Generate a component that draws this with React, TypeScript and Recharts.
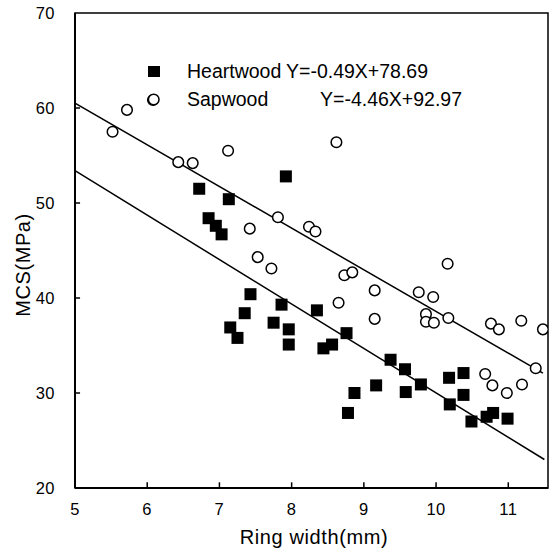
import React from "react";
import { ScatterChart, Scatter, XAxis, YAxis, ReferenceArea, ReferenceLine } from "recharts";

// Ring width (mm) vs MCS (MPa)
const heartwood = [
    [6.72, 51.5], [7.13, 50.4], [6.85, 48.4], [6.95, 47.6], [7.03, 46.7], [7.92, 52.8],
    [7.43, 40.4], [7.35, 38.4], [7.15, 36.9], [7.25, 35.8], [7.75, 37.4], [7.86, 39.3],
    [7.96, 36.7], [7.96, 35.1], [8.35, 38.7], [8.44, 34.7], [8.56, 35.1], [8.76, 36.3],
    [8.87, 30.0], [8.78, 27.9], [9.17, 30.8], [9.37, 33.5], [9.57, 32.5], [9.58, 30.1],
    [9.79, 30.9], [10.18, 31.6], [10.38, 32.1], [10.38, 29.8], [10.19, 28.8], [10.49, 27.0],
    [10.7, 27.5], [10.79, 27.9], [10.99, 27.3],
].map(([x, y]) => ({ x, y }));

const sapwood = [
    [5.52, 57.5], [5.72, 59.8], [6.09, 60.9], [6.43, 54.3], [6.63, 54.2], [7.12, 55.5],
    [7.42, 47.3], [7.53, 44.3], [7.72, 43.1], [7.81, 48.5], [8.24, 47.5], [8.33, 47.0],
    [8.62, 56.4], [8.65, 39.5], [8.73, 42.4], [8.84, 42.7], [9.15, 40.8], [9.15, 37.8],
    [9.76, 40.6], [9.96, 40.1], [9.86, 38.3], [9.86, 37.5], [9.97, 37.4], [10.16, 43.6],
    [10.17, 37.9], [10.68, 32.0], [10.76, 37.3], [10.78, 30.8], [10.87, 36.7], [10.98, 30.0],
    [11.18, 37.6], [11.19, 30.9], [11.38, 32.6], [11.48, 36.7],
].map(([x, y]) => ({ x, y }));

// fitted lines, endpoints as drawn in the figure
const heartFit = [{ x: 5, y: 53.4 }, { x: 11.5, y: 23.0 }];
const sapFit = [{ x: 5, y: 60.5 }, { x: 11.48, y: 32.1 }];

const xTicks = [5, 6, 7, 8, 9, 10, 11];
const yTicks = [20, 30, 40, 50, 60, 70];
const X_MAX = 11.55;

const FONT = "Arial, 'Liberation Sans', sans-serif";

const Square = (p: any) => <rect x={p.cx - 6} y={p.cy - 6} width={12} height={12} fill="#000" />;
const Ring = (p: any) => <circle cx={p.cx} cy={p.cy} r={5.3} fill="#fff" stroke="#000" strokeWidth={1.5} />;
const NoDot = () => <g />;

export default function App() {
    const tick = { fill: "#000", fontSize: 16.5, fontFamily: FONT, letterSpacing: 0.5 };
    return (
        <div style={{ position: "absolute", left: 0, top: 0, width: 557, height: 552, background: "#fff" }}>
            <ScatterChart width={557} height={552} margin={{ top: 13, right: 9, bottom: 0, left: 0 }}>
                <XAxis
                    type="number"
                    dataKey="x"
                    domain={[5, X_MAX]}
                    ticks={xTicks}
                    height={64}
                    tick={tick}
                    tickLine={false}
                    tickMargin={9}
                    axisLine={{ stroke: "#000", strokeWidth: 2 }}
                    allowDataOverflow
                />
                <YAxis
                    type="number"
                    dataKey="y"
                    domain={[20, 70]}
                    ticks={yTicks}
                    width={75}
                    tick={tick}
                    tickLine={false}
                    tickMargin={14}
                    axisLine={{ stroke: "#000", strokeWidth: 2 }}
                    allowDataOverflow
                />
                <ReferenceArea x1={5} x2={X_MAX} y1={20} y2={70} fill="none" stroke="#000" strokeWidth={1.5} ifOverflow="visible" />

                {/* short inward ticks */}
                {xTicks.slice(1).map(t => (
                    <ReferenceLine key={"xt" + t} segment={[{ x: t, y: 20 }, { x: t, y: 20.6 }]} stroke="#000" strokeWidth={1.5} />
                ))}
                {yTicks.slice(1, -1).map(t => (
                    <ReferenceLine key={"yt" + t} segment={[{ x: 5, y: t }, { x: 5.07, y: t }]} stroke="#000" strokeWidth={1.5} />
                ))}

                <Scatter data={sapFit} line={{ stroke: "#000", strokeWidth: 1.5 }} shape={NoDot} isAnimationActive={false} />
                <Scatter data={heartFit} line={{ stroke: "#000", strokeWidth: 1.5 }} shape={NoDot} isAnimationActive={false} />
                <Scatter name="Sapwood" data={sapwood} shape={Ring} isAnimationActive={false} />
                <Scatter name="Heartwood" data={heartwood} shape={Square} isAnimationActive={false} />

                {/* legend with regression equations */}
                <g fontFamily={FONT} fontSize={19.5} fill="#000">
                    <rect x={148} y={66} width={12} height={11} fill="#000" />
                    <circle cx={153} cy={100} r={5.3} fill="#fff" stroke="#000" strokeWidth={1.5} />
                    <text x={187} y={78}>Heartwood</text>
                    <text x={286} y={78}>Y=-0.49X+78.69</text>
                    <text x={187} y={106}>Sapwood</text>
                    <text x={320} y={106}>Y=-4.46X+92.97</text>
                </g>

                {/* axis titles */}
                <text x={314} y={544} textAnchor="middle" fontFamily={FONT} fontSize={20} letterSpacing={0.6} fill="#000">
                    Ring width(mm)
                </text>
                <text
                    x={30}
                    y={265}
                    transform="rotate(-90 30 265)"
                    textAnchor="middle"
                    fontFamily={FONT}
                    fontSize={20}
                    letterSpacing={0.6}
                    fill="#000"
                >
                    MCS(MPa)
                </text>
            </ScatterChart>
        </div>
    );
}
